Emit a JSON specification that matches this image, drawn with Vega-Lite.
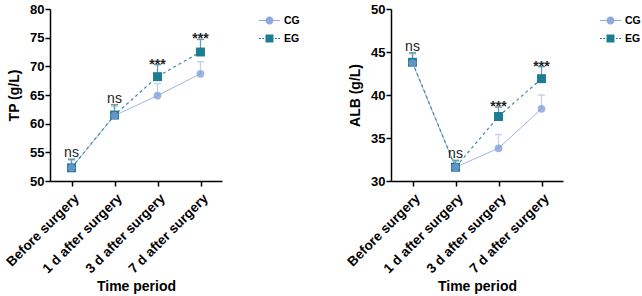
{
  "$schema": "https://vega.github.io/schema/vega-lite/v6.json",
  "background": "white",
  "padding": {"left": 3, "top": 3, "right": 0, "bottom": 0},
  "spacing": 44,
  "config": {
    "font": "Liberation Sans",
    "view": {"stroke": null},
    "axis": {
      "domainColor": "black", "domainWidth": 1.5, "tickColor": "black", "tickWidth": 1.5, "tickSize": 5,
      "labelColor": "black", "labelFont": "Liberation Sans", "labelFontWeight": "bold", "labelFontSize": 13,
      "titleColor": "black", "titleFont": "Liberation Sans", "titleFontWeight": "bold", "titleFontSize": 14,
      "grid": false, "labelPadding": 1
    },
    "legend": {"labelFont": "Liberation Sans", "labelFontWeight": "bold", "labelFontSize": 10.5, "labelColor": "black"}
  },
  "datasets": {
    "tp": [
      {"time": "Before surgery", "group": "CG", "value": 52.3, "upper": 53.6},
      {"time": "1 d after surgery", "group": "CG", "value": 61.4, "upper": 63.0},
      {"time": "3 d after surgery", "group": "CG", "value": 64.9, "upper": 67.0},
      {"time": "7 d after surgery", "group": "CG", "value": 68.7, "upper": 70.8},
      {"time": "Before surgery", "group": "EG", "value": 52.3, "upper": 53.8},
      {"time": "1 d after surgery", "group": "EG", "value": 61.5, "upper": 63.3},
      {"time": "3 d after surgery", "group": "EG", "value": 68.2, "upper": 70.3},
      {"time": "7 d after surgery", "group": "EG", "value": 72.5, "upper": 74.7}
    ],
    "tpsig": [
      {"time": "Before surgery", "y": 53.8, "label": "ns"},
      {"time": "1 d after surgery", "y": 63.3, "label": "ns"},
      {"time": "3 d after surgery", "y": 70.3, "label": "***"},
      {"time": "7 d after surgery", "y": 74.7, "label": "***"}
    ],
    "alb": [
      {"time": "Before surgery", "group": "CG", "value": 43.7, "upper": 44.8},
      {"time": "1 d after surgery", "group": "CG", "value": 31.6, "upper": 32.3},
      {"time": "3 d after surgery", "group": "CG", "value": 33.8, "upper": 35.4},
      {"time": "7 d after surgery", "group": "CG", "value": 38.4, "upper": 40.0},
      {"time": "Before surgery", "group": "EG", "value": 43.8, "upper": 44.9},
      {"time": "1 d after surgery", "group": "EG", "value": 31.6, "upper": 32.4},
      {"time": "3 d after surgery", "group": "EG", "value": 37.5, "upper": 38.6},
      {"time": "7 d after surgery", "group": "EG", "value": 41.9, "upper": 43.3}
    ],
    "albsig": [
      {"time": "Before surgery", "y": 44.9, "label": "ns"},
      {"time": "1 d after surgery", "y": 32.4, "label": "ns"},
      {"time": "3 d after surgery", "y": 38.6, "label": "***"},
      {"time": "7 d after surgery", "y": 43.3, "label": "***"}
    ]
  },
  "resolve": {"scale": {"color": "independent", "shape": "independent"}, "legend": {"color": "independent", "shape": "independent"}},
  "hconcat": [
    {
      "width": 172, "height": 172,
      "encoding": {
        "x": {"field": "time", "type": "nominal", "sort": null, "scale": {"type": "point", "padding": 0.5},
              "axis": {"title": "Time period", "labelAngle": -45, "labelFontSize": 13.5, "labelPadding": 5, "titlePadding": 4}},
        "y": {"type": "quantitative", "scale": {"domain": [50, 80], "nice": false, "zero": false},
              "axis": {"title": "TP (g/L)", "values": [50, 55, 60, 65, 70, 75, 80], "titlePadding": 8}}
      },
      "layer": [
        {"data": {"name": "tp"}, "transform": [{"filter": "datum.group === 'CG'"}], "mark": {"type": "rule", "strokeWidth": 1.3, "color": "#c3d2ee"},
         "encoding": {"y": {"field": "value"}, "y2": {"field": "upper"}}},
        {"data": {"name": "tp"}, "transform": [{"filter": "datum.group === 'CG'"}], "mark": {"type": "tick", "thickness": 1.5, "size": 7, "orient": "horizontal", "color": "#c3d2ee", "opacity": 1},
         "encoding": {"y": {"field": "upper"}}},
        {"data": {"name": "tp"}, "transform": [{"filter": "datum.group === 'EG'"}], "mark": {"type": "rule", "strokeWidth": 1.3, "color": "#6a9aab"},
         "encoding": {"y": {"field": "value"}, "y2": {"field": "upper"}}},
        {"data": {"name": "tp"}, "transform": [{"filter": "datum.group === 'EG'"}], "mark": {"type": "tick", "thickness": 1.5, "size": 7, "orient": "horizontal", "color": "#6a9aab", "opacity": 1},
         "encoding": {"y": {"field": "upper"}}},
        {"data": {"name": "tp"}, "transform": [{"filter": "datum.group === 'CG'"}], "mark": {"type": "line", "strokeWidth": 1, "color": "#9fb6e0"},
         "encoding": {"y": {"field": "value"}}},
        {"data": {"name": "tp"}, "transform": [{"filter": "datum.group === 'EG'"}], "mark": {"type": "line", "strokeWidth": 1.2, "strokeDash": [3, 3], "color": "#3f8ba0"},
         "encoding": {"y": {"field": "value"}}},
        {"data": {"name": "tp"}, "transform": [{"filter": "datum.group === 'EG'"}], "mark": {"type": "point", "shape": "square", "filled": true, "size": 80, "opacity": 1, "color": "#1b7c92"},
         "encoding": {"y": {"field": "value"}}},
        {"data": {"name": "tp"}, "transform": [{"filter": "datum.group === 'CG'"}], "mark": {"type": "point", "shape": "circle", "filled": true, "size": 60, "opacity": 0.75, "color": "#7c9cd6"},
         "encoding": {"y": {"field": "value"}}},
        {"data": {"name": "tpsig"}, "transform": [{"filter": "datum.label === 'ns'"}], "mark": {"type": "text", "fontSize": 14, "baseline": "alphabetic", "dy": -2, "color": "#222"},
         "encoding": {"y": {"field": "y"}, "text": {"field": "label"}}},
        {"data": {"name": "tpsig"}, "transform": [{"filter": "datum.label !== 'ns'"}], "mark": {"type": "text", "fontSize": 14, "fontWeight": "bold", "baseline": "alphabetic", "dy": 4, "color": "#222"},
         "encoding": {"y": {"field": "y"}, "text": {"field": "label"}}},
        {"data": {"name": "tp"}, "transform": [{"filter": "datum.value < 0"}], "mark": {"type": "point", "filled": true, "size": 441, "opacity": 1},
         "encoding": {"y": {"field": "value"},
           "shape": {"field": "group", "type": "nominal", "scale": {"domain": ["CG", "EG"], "range": [
             "M-1,-0.05H1V0.05H-1Z M-0.38,0A0.38,0.38 0 1,1 0.38,0A0.38,0.38 0 1,1 -0.38,0Z",
             "M-1,-0.05H-0.82V0.05H-1Z M-0.7,-0.05H-0.52V0.05H-0.7Z M0.52,-0.05H0.7V0.05H0.52Z M0.82,-0.05H1V0.05H0.82Z M-0.38,-0.38H0.38V0.38H-0.38Z"]},
             "legend": {"title": null, "orient": "none", "legendX": 209, "legendY": 1, "symbolSize": 441, "symbolOpacity": 1, "symbolStrokeWidth": 0, "labelOffset": 4, "rowPadding": 2}},
           "color": {"field": "group", "type": "nominal", "scale": {"domain": ["CG", "EG"], "range": ["#8eaadb", "#1b7c92"]},
             "legend": {"title": null, "orient": "none", "legendX": 209, "legendY": 1, "symbolSize": 441, "symbolOpacity": 1, "symbolStrokeWidth": 0, "labelOffset": 4, "rowPadding": 2}}}}
      ]
    },
    {
      "width": 172, "height": 172,
      "encoding": {
        "x": {"field": "time", "type": "nominal", "sort": null, "scale": {"type": "point", "padding": 0.5},
              "axis": {"title": "Time period", "labelAngle": -45, "labelFontSize": 13.5, "labelPadding": 5, "titlePadding": 4}},
        "y": {"type": "quantitative", "scale": {"domain": [30, 50], "nice": false, "zero": false},
              "axis": {"title": "ALB (g/L)", "values": [30, 35, 40, 45, 50], "titlePadding": 8}}
      },
      "layer": [
        {"data": {"name": "alb"}, "transform": [{"filter": "datum.group === 'CG'"}], "mark": {"type": "rule", "strokeWidth": 1.3, "color": "#c3d2ee"},
         "encoding": {"y": {"field": "value"}, "y2": {"field": "upper"}}},
        {"data": {"name": "alb"}, "transform": [{"filter": "datum.group === 'CG'"}], "mark": {"type": "tick", "thickness": 1.5, "size": 7, "orient": "horizontal", "color": "#c3d2ee", "opacity": 1},
         "encoding": {"y": {"field": "upper"}}},
        {"data": {"name": "alb"}, "transform": [{"filter": "datum.group === 'EG'"}], "mark": {"type": "rule", "strokeWidth": 1.3, "color": "#6a9aab"},
         "encoding": {"y": {"field": "value"}, "y2": {"field": "upper"}}},
        {"data": {"name": "alb"}, "transform": [{"filter": "datum.group === 'EG'"}], "mark": {"type": "tick", "thickness": 1.5, "size": 7, "orient": "horizontal", "color": "#6a9aab", "opacity": 1},
         "encoding": {"y": {"field": "upper"}}},
        {"data": {"name": "alb"}, "transform": [{"filter": "datum.group === 'CG'"}], "mark": {"type": "line", "strokeWidth": 1, "color": "#9fb6e0"},
         "encoding": {"y": {"field": "value"}}},
        {"data": {"name": "alb"}, "transform": [{"filter": "datum.group === 'EG'"}], "mark": {"type": "line", "strokeWidth": 1.2, "strokeDash": [3, 3], "color": "#3f8ba0"},
         "encoding": {"y": {"field": "value"}}},
        {"data": {"name": "alb"}, "transform": [{"filter": "datum.group === 'EG'"}], "mark": {"type": "point", "shape": "square", "filled": true, "size": 80, "opacity": 1, "color": "#1b7c92"},
         "encoding": {"y": {"field": "value"}}},
        {"data": {"name": "alb"}, "transform": [{"filter": "datum.group === 'CG'"}], "mark": {"type": "point", "shape": "circle", "filled": true, "size": 60, "opacity": 0.75, "color": "#7c9cd6"},
         "encoding": {"y": {"field": "value"}}},
        {"data": {"name": "albsig"}, "transform": [{"filter": "datum.label === 'ns'"}], "mark": {"type": "text", "fontSize": 14, "baseline": "alphabetic", "dy": -2, "color": "#222"},
         "encoding": {"y": {"field": "y"}, "text": {"field": "label"}}},
        {"data": {"name": "albsig"}, "transform": [{"filter": "datum.label !== 'ns'"}], "mark": {"type": "text", "fontSize": 14, "fontWeight": "bold", "baseline": "alphabetic", "dy": 4, "color": "#222"},
         "encoding": {"y": {"field": "y"}, "text": {"field": "label"}}},
        {"data": {"name": "alb"}, "transform": [{"filter": "datum.value < 0"}], "mark": {"type": "point", "filled": true, "size": 441, "opacity": 1},
         "encoding": {"y": {"field": "value"},
           "shape": {"field": "group", "type": "nominal", "scale": {"domain": ["CG", "EG"], "range": [
             "M-1,-0.05H1V0.05H-1Z M-0.38,0A0.38,0.38 0 1,1 0.38,0A0.38,0.38 0 1,1 -0.38,0Z",
             "M-1,-0.05H-0.82V0.05H-1Z M-0.7,-0.05H-0.52V0.05H-0.7Z M0.52,-0.05H0.7V0.05H0.52Z M0.82,-0.05H1V0.05H0.82Z M-0.38,-0.38H0.38V0.38H-0.38Z"]},
             "legend": {"title": null, "orient": "none", "legendX": 209, "legendY": 1, "symbolSize": 441, "symbolOpacity": 1, "symbolStrokeWidth": 0, "labelOffset": 4, "rowPadding": 2}},
           "color": {"field": "group", "type": "nominal", "scale": {"domain": ["CG", "EG"], "range": ["#8eaadb", "#1b7c92"]},
             "legend": {"title": null, "orient": "none", "legendX": 209, "legendY": 1, "symbolSize": 441, "symbolOpacity": 1, "symbolStrokeWidth": 0, "labelOffset": 4, "rowPadding": 2}}}}
      ]
    }
  ]
}
